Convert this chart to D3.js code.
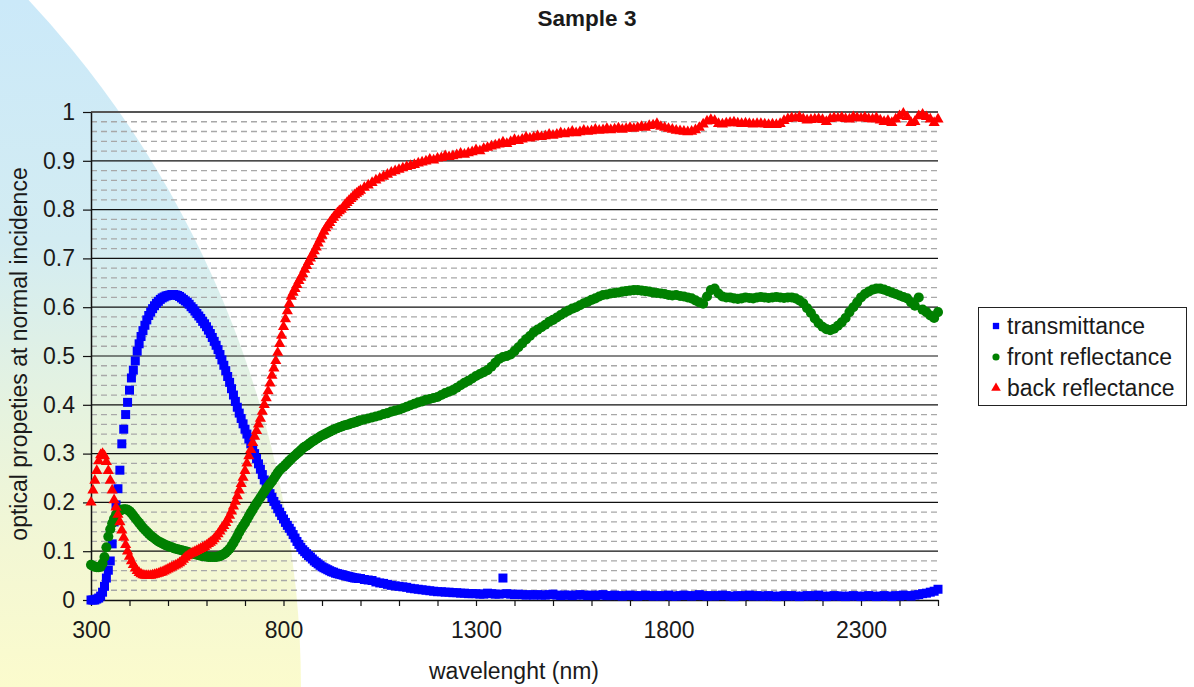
<!DOCTYPE html>
<html>
<head>
<meta charset="utf-8">
<script src="https://cdn.jsdelivr.net/npm/d3@7"></script>
<style>
  html, body { margin: 0; padding: 0; background: #ffffff; }
  svg { display: block; }
  text { font-family: "Liberation Sans", Arial, sans-serif; fill: #1a1a1a; }
</style>
</head>
<body>
<svg id="chart" width="1194" height="687"></svg>
<script>
// ---------------- DATA ----------------
const title = "Sample 3";
const xLabel = "wavelenght (nm)";
const yLabel = "optical propeties at normal incidence";
const seriesNames = ["transmittance", "front reflectance", "back reflectance"];

// sampling grid: 5 nm steps from 300 to 995 nm, 10 nm steps from 1000 to 2500 nm
const wavelengths = [...d3.range(300, 1000, 5), ...d3.range(1000, 2501, 10)];

const xTickValues = d3.range(300, 2501, 100);
const xTickLabels = [300, 800, 1300, 1800, 2300];
const yTickValues = [0, 0.1, 0.2, 0.3, 0.4, 0.5, 0.6, 0.7, 0.8, 0.9, 1];

const transmittance = [
  // 300-995 (5 nm)
  0.000, 0.000, 0.000, 0.002, 0.004, 0.008, 0.016, 0.028, 0.045, 0.061,
  0.080, 0.115, 0.160, 0.195, 0.228, 0.266, 0.320, 0.350, 0.380, 0.405,
  0.430, 0.455, 0.471, 0.490, 0.510, 0.525, 0.540, 0.552, 0.563, 0.574,
  0.583, 0.590, 0.597, 0.603, 0.608, 0.612, 0.616, 0.619, 0.621, 0.623,
  0.624, 0.625, 0.626, 0.626, 0.625, 0.624, 0.622, 0.619, 0.616, 0.613,
  0.610, 0.606, 0.601, 0.597, 0.592, 0.587, 0.582, 0.577, 0.571, 0.566,
  0.560, 0.553, 0.546, 0.538, 0.530, 0.522, 0.513, 0.503, 0.492, 0.481,
  0.470, 0.458, 0.446, 0.433, 0.420, 0.407, 0.395, 0.383, 0.372, 0.361,
  0.350, 0.340, 0.330, 0.320, 0.310, 0.300, 0.290, 0.279, 0.268, 0.257,
  0.246, 0.236, 0.226, 0.218, 0.210, 0.202, 0.195, 0.187, 0.180, 0.173,
  0.166, 0.159, 0.153, 0.147, 0.141, 0.134, 0.127, 0.120, 0.114, 0.108,
  0.103, 0.099, 0.095, 0.091, 0.088, 0.084, 0.080, 0.077, 0.074, 0.071,
  0.068, 0.066, 0.064, 0.062, 0.060, 0.058, 0.057, 0.055, 0.054, 0.053,
  0.052, 0.051, 0.050, 0.049, 0.048, 0.047, 0.046, 0.045, 0.045, 0.044,
  // 1000-2500 (10 nm)
  0.044, 0.042, 0.041, 0.040, 0.037,
  0.035, 0.034, 0.032, 0.030, 0.029, 0.028, 0.027, 0.026, 0.024, 0.023,
  0.022, 0.021, 0.020, 0.019, 0.018, 0.017, 0.017, 0.016, 0.016, 0.015,
  0.015, 0.014, 0.014, 0.013, 0.013, 0.013, 0.012, 0.012, 0.014, 0.013,
  0.012, 0.012, 0.045, 0.013, 0.012, 0.011, 0.012, 0.011, 0.010, 0.011,
  0.010, 0.011, 0.010, 0.010, 0.011, 0.012, 0.010, 0.009, 0.010, 0.010,
  0.009, 0.010, 0.011, 0.010, 0.009, 0.010, 0.009, 0.010, 0.011, 0.009,
  0.009, 0.010, 0.009, 0.008, 0.009, 0.010, 0.009, 0.008, 0.009, 0.010,
  0.009, 0.008, 0.009, 0.008, 0.009, 0.010, 0.008, 0.008, 0.009, 0.010,
  0.009, 0.008, 0.009, 0.011, 0.009, 0.008, 0.009, 0.008, 0.009, 0.010,
  0.009, 0.008, 0.007, 0.009, 0.008, 0.009, 0.010, 0.008, 0.009, 0.008,
  0.008, 0.009, 0.008, 0.007, 0.008, 0.009, 0.008, 0.009, 0.008, 0.007,
  0.008, 0.009, 0.008, 0.009, 0.010, 0.008, 0.007, 0.008, 0.009, 0.008,
  0.008, 0.007, 0.008, 0.009, 0.008, 0.007, 0.008, 0.009, 0.008, 0.007,
  0.008, 0.009, 0.008, 0.007, 0.009, 0.008, 0.010, 0.009, 0.008, 0.010,
  0.011, 0.013, 0.014, 0.016, 0.018, 0.022
];

const frontReflectance = [
  // 300-995 (5 nm)
  0.072, 0.070, 0.068, 0.067, 0.067, 0.068, 0.075, 0.088, 0.108, 0.130,
  0.145, 0.157, 0.167, 0.175, 0.180, 0.183, 0.185, 0.186, 0.186, 0.185,
  0.182, 0.178, 0.173, 0.168, 0.163, 0.158, 0.153, 0.148, 0.144, 0.140,
  0.136, 0.132, 0.129, 0.126, 0.123, 0.120, 0.118, 0.116, 0.114, 0.112,
  0.111, 0.109, 0.108, 0.106, 0.105, 0.104, 0.103, 0.102, 0.101, 0.100,
  0.099, 0.097, 0.096, 0.095, 0.094, 0.093, 0.092, 0.091, 0.090, 0.090,
  0.089, 0.088, 0.088, 0.088, 0.088, 0.088, 0.089, 0.090, 0.092, 0.094,
  0.097, 0.101, 0.105, 0.111, 0.117, 0.124, 0.131, 0.139, 0.146, 0.152,
  0.158, 0.165, 0.172, 0.179, 0.185, 0.192, 0.198, 0.204, 0.210, 0.216,
  0.222, 0.228, 0.233, 0.238, 0.243, 0.249, 0.255, 0.261, 0.266, 0.270,
  0.273, 0.277, 0.281, 0.285, 0.289, 0.293, 0.296, 0.300, 0.303, 0.307,
  0.311, 0.314, 0.316, 0.319, 0.322, 0.325, 0.327, 0.330, 0.332, 0.335,
  0.337, 0.339, 0.341, 0.343, 0.345, 0.347, 0.349, 0.351, 0.352, 0.354,
  0.355, 0.357, 0.358, 0.359, 0.360, 0.362, 0.363, 0.364, 0.365, 0.367,
  // 1000-2500 (10 nm)
  0.368, 0.370, 0.372, 0.374, 0.376,
  0.378, 0.381, 0.383, 0.386, 0.388, 0.390, 0.393, 0.396, 0.399, 0.402,
  0.405, 0.407, 0.410, 0.412, 0.414, 0.416, 0.420, 0.424, 0.427, 0.430,
  0.435, 0.440, 0.445, 0.449, 0.454, 0.459, 0.463, 0.467, 0.471, 0.478,
  0.486, 0.494, 0.498, 0.500, 0.503, 0.510, 0.518, 0.526, 0.534, 0.541,
  0.549, 0.554, 0.559, 0.564, 0.570, 0.574, 0.579, 0.584, 0.589, 0.593,
  0.597, 0.600, 0.604, 0.608, 0.611, 0.615, 0.618, 0.622, 0.625, 0.626,
  0.628, 0.629, 0.630, 0.632, 0.633, 0.634, 0.635, 0.635, 0.634, 0.633,
  0.632, 0.630, 0.629, 0.628, 0.627, 0.625, 0.624, 0.625, 0.623, 0.622,
  0.620, 0.618, 0.614, 0.610, 0.607, 0.622, 0.635, 0.638, 0.628, 0.622,
  0.620, 0.620, 0.618, 0.617, 0.618, 0.620, 0.619, 0.618, 0.620, 0.621,
  0.620, 0.619, 0.620, 0.621, 0.620, 0.619, 0.620, 0.620, 0.618, 0.614,
  0.608, 0.598, 0.588, 0.577, 0.567, 0.560, 0.555, 0.553, 0.556, 0.562,
  0.569, 0.578, 0.590, 0.600, 0.610, 0.620, 0.627, 0.632, 0.636, 0.638,
  0.638, 0.636, 0.633, 0.630, 0.627, 0.624, 0.621, 0.618, 0.610, 0.603,
  0.620, 0.595, 0.590, 0.583, 0.578, 0.590
];

const backReflectance = [
  // 300-995 (5 nm)
  0.200, 0.225, 0.245, 0.265, 0.285, 0.297, 0.300, 0.295, 0.283, 0.265,
  0.245, 0.225, 0.205, 0.190, 0.175, 0.160, 0.143, 0.128, 0.113, 0.100,
  0.089, 0.080, 0.072, 0.065, 0.060, 0.056, 0.053, 0.051, 0.050, 0.050,
  0.050, 0.050, 0.051, 0.052, 0.053, 0.054, 0.056, 0.057, 0.059, 0.061,
  0.063, 0.065, 0.067, 0.069, 0.071, 0.073, 0.076, 0.079, 0.083, 0.087,
  0.090, 0.093, 0.095, 0.097, 0.099, 0.101, 0.103, 0.105, 0.107, 0.109,
  0.112, 0.115, 0.118, 0.121, 0.125, 0.130, 0.135, 0.141, 0.147, 0.152,
  0.158, 0.165, 0.173, 0.182, 0.192, 0.202, 0.213, 0.225, 0.238, 0.251,
  0.265, 0.280, 0.295, 0.308, 0.322, 0.335, 0.347, 0.360, 0.372, 0.386,
  0.400, 0.414, 0.428, 0.444, 0.460, 0.475, 0.490, 0.507, 0.525, 0.542,
  0.560, 0.576, 0.592, 0.607, 0.622, 0.630, 0.638, 0.646, 0.654, 0.661,
  0.668, 0.677, 0.685, 0.693, 0.700, 0.708, 0.715, 0.723, 0.731, 0.739,
  0.747, 0.755, 0.762, 0.768, 0.773, 0.779, 0.784, 0.789, 0.793, 0.797,
  0.800, 0.805, 0.810, 0.814, 0.818, 0.822, 0.826, 0.830, 0.833, 0.836,
  // 1000-2500 (10 nm)
  0.839, 0.845, 0.850, 0.855, 0.860,
  0.864, 0.868, 0.872, 0.876, 0.879, 0.882, 0.885, 0.888, 0.890, 0.892,
  0.895, 0.897, 0.899, 0.903, 0.901, 0.905, 0.906, 0.910, 0.908, 0.910,
  0.912, 0.915, 0.913, 0.916, 0.918, 0.922, 0.920, 0.925, 0.927, 0.930,
  0.932, 0.934, 0.938, 0.935, 0.939, 0.943, 0.941, 0.944, 0.948, 0.946,
  0.948, 0.951, 0.949, 0.951, 0.954, 0.952, 0.954, 0.957, 0.955, 0.957,
  0.960, 0.957, 0.959, 0.962, 0.960, 0.961, 0.964, 0.962, 0.963, 0.966,
  0.963, 0.965, 0.967, 0.964, 0.966, 0.968, 0.966, 0.968, 0.970, 0.968,
  0.972, 0.973, 0.976, 0.970, 0.968, 0.966, 0.964, 0.962, 0.961, 0.960,
  0.959, 0.960, 0.963, 0.968, 0.975, 0.981, 0.984, 0.982, 0.976, 0.975,
  0.977, 0.978, 0.979, 0.977, 0.976, 0.977, 0.976, 0.975, 0.976, 0.976,
  0.975, 0.974, 0.975, 0.974, 0.976, 0.982, 0.986, 0.988, 0.987, 0.990,
  0.986, 0.983, 0.984, 0.985, 0.986, 0.984, 0.980, 0.986, 0.988, 0.987,
  0.989, 0.986, 0.985, 0.990, 0.988, 0.987, 0.989, 0.986, 0.985, 0.988,
  0.983, 0.980, 0.982, 0.978, 0.985, 0.992, 0.997, 0.990, 0.978, 0.980,
  0.992, 0.995, 0.990, 0.985, 0.978, 0.985
];

const seriesColors = ["#0000ff", "#008000", "#ff0000"];
const seriesShapes = [d3.symbolSquare, d3.symbolCircle, d3.symbolTriangle];

// ---------------- DRAW ----------------
const svg = d3.select("#chart");
const W = 1194, H = 687;
const FONT = "'Liberation Sans', Arial, sans-serif";

// background decoration
const defs = svg.append("defs");
const grad = defs.append("linearGradient")
  .attr("id", "bgGrad").attr("gradientUnits", "userSpaceOnUse")
  .attr("x1", 0).attr("y1", 0).attr("x2", 0).attr("y2", H);
[[0, "#cbe9f9"], [0.35, "#d3ecf2"], [0.6, "#e6f3df"], [0.8, "#f3f7d4"], [1, "#fbfbcd"]]
  .forEach(([o, c]) => grad.append("stop").attr("offset", o).attr("stop-color", c));
svg.append("circle").attr("cx", -709).attr("cy", 690).attr("r", 1010).attr("fill", "url(#bgGrad)");

const x = d3.scaleLinear().domain([300, 2500]).range([91, 938]);
const y = d3.scaleLinear().domain([0, 1]).range([600, 112]);

// minor dashed grid
const minor = d3.range(1, 50).map(i => i / 50).filter(v => Math.round(v * 50) % 5 !== 0);
svg.append("g").selectAll("line").data(minor).join("line")
  .attr("x1", x(300)).attr("x2", x(2500))
  .attr("y1", d => y(d)).attr("y2", d => y(d))
  .attr("stroke", "#a8a8a8").attr("stroke-width", 1.3).attr("stroke-dasharray", "6,4");

// major solid grid
svg.append("g").selectAll("line").data(yTickValues.filter(v => v > 0)).join("line")
  .attr("x1", x(300)).attr("x2", x(2500))
  .attr("y1", d => y(d)).attr("y2", d => y(d))
  .attr("stroke", d => d === 1 ? "#555" : "#111")
  .attr("stroke-width", d => d === 1 ? 2 : 1.2);

// axes
const yAxis = d3.axisLeft(y).tickValues(yTickValues).tickSize(8).tickSizeOuter(0)
  .tickFormat(d => d === 0 ? "0" : d === 1 ? "1" : d.toFixed(1));
const gy = svg.append("g").attr("transform", `translate(${x(300)},0)`).call(yAxis);
gy.select(".domain").attr("stroke", "#111").attr("stroke-width", 1.5);
gy.selectAll(".tick line").attr("stroke", "#111").attr("stroke-width", 1.2);
gy.selectAll(".tick text").attr("x", -16).attr("font-size", 23).attr("fill", "#222")
  .style("font-family", FONT);

const xAxis = d3.axisBottom(x).tickValues(xTickValues).tickSize(6).tickSizeOuter(0)
  .tickFormat(d => xTickLabels.includes(d) ? String(d) : "");
const gx = svg.append("g").attr("transform", `translate(0,${y(0)})`).call(xAxis);
gx.select(".domain").attr("stroke", "#111").attr("stroke-width", 1.5);
gx.selectAll(".tick line").attr("stroke", "#111").attr("stroke-width", 1.2);
gx.selectAll(".tick text").attr("y", 22).attr("font-size", 23).attr("fill", "#222")
  .style("font-family", FONT);

// series markers
const allSeries = [transmittance, frontReflectance, backReflectance];
const symbolSizes = [81, 80, 54];
allSeries.forEach((vals, si) => {
  const pts = wavelengths.map((w, i) => [w, vals[i]]).filter(p => p[1] !== undefined);
  const sym = d3.symbol().type(seriesShapes[si]).size(symbolSizes[si]);
  svg.append("g").selectAll("path").data(pts).join("path")
    .attr("d", sym)
    .attr("transform", d => `translate(${x(d[0])},${y(d[1])})`)
    .attr("fill", seriesColors[si]);
});

// title and axis labels
svg.append("text").attr("x", 587).attr("y", 26).attr("text-anchor", "middle")
  .attr("font-size", 22.5).attr("font-weight", "bold").text(title);
svg.append("text").attr("x", 514).attr("y", 679).attr("text-anchor", "middle")
  .attr("font-size", 23).text(xLabel);
svg.append("text").attr("transform", "translate(27,354) rotate(-90)").attr("text-anchor", "middle")
  .attr("font-size", 23).text(yLabel);

// legend
const lg = svg.append("g");
lg.append("rect").attr("x", 978.5).attr("y", 307.5).attr("width", 208).attr("height", 98)
  .attr("fill", "#fff").attr("stroke", "#222").attr("stroke-width", 1);
seriesNames.forEach((name, i) => {
  const cy = 326 + i * 31;
  lg.append("path").attr("d", d3.symbol().type(seriesShapes[i]).size(40)())
    .attr("transform", `translate(996,${cy})`).attr("fill", seriesColors[i]);
  lg.append("text").attr("x", 1007).attr("y", cy + 8).attr("font-size", 23).text(name);
});
</script>
</body>
</html>
